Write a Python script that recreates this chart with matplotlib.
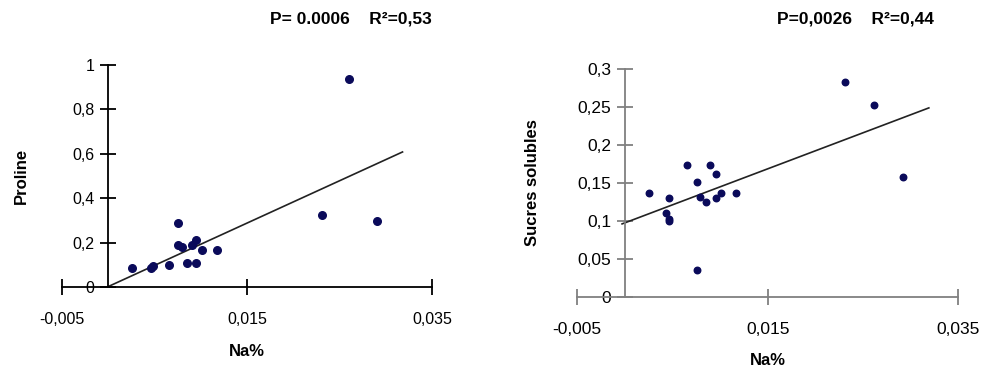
import matplotlib.pyplot as plt

plt.rcParams['font.family'] = ['Liberation Sans', 'DejaVu Sans']

# Proline vs Na%
na_pro = [0.0026, 0.0046, 0.0048, 0.0066, 0.0075, 0.0075, 0.0080, 0.0085,
          0.0090, 0.0095, 0.0095, 0.0101, 0.0117, 0.0231, 0.0260, 0.0290]
proline = [0.084, 0.084, 0.093, 0.099, 0.290, 0.187, 0.178, 0.109,
           0.187, 0.211, 0.109, 0.165, 0.165, 0.322, 0.937, 0.298]
pro_trend_x = [0.0, 0.0318]
pro_trend_y = [0.002, 0.608]

# Sucres solubles vs Na%
na_suc = [0.0025, 0.0046, 0.0043, 0.0046, 0.0046, 0.0065, 0.0076, 0.0076, 0.0079,
          0.0085, 0.0089, 0.0096, 0.0096, 0.0101, 0.0117, 0.0231, 0.0261, 0.0292]
sucres = [0.137, 0.130, 0.110, 0.103, 0.100, 0.174, 0.151, 0.035, 0.132,
          0.125, 0.174, 0.162, 0.130, 0.137, 0.137, 0.283, 0.253, 0.158]
suc_trend_x = [-0.0003, 0.0319]
suc_trend_y = [0.096, 0.249]

xticks = [-0.005, 0.015, 0.035]
pro_yticks = [0, 0.2, 0.4, 0.6, 0.8, 1]
suc_yticks = [0, 0.05, 0.1, 0.15, 0.2, 0.25, 0.3]


def fmt(v):
    s = ('%g' % v).replace('.', ',')
    return s


fig = plt.figure(figsize=(9.95, 3.81), dpi=100)

panels = [
    ([0.0623, 0.2467, 0.372, 0.583], na_pro, proline, pro_trend_x, pro_trend_y,
     pro_yticks, (0, 1), 'Proline', -0.09, 'black', 30, 11.5,
     'P= 0.0006    R\u00b2=0,53', 0.353),
    ([0.5802, 0.2213, 0.383, 0.597], na_suc, sucres, suc_trend_x, suc_trend_y,
     suc_yticks, (0, 0.3), 'Sucres solubles', -0.097, '#808080', 22, 12.5,
     'P=0,0026    R\u00b2=0,44', 0.86),
]

for (rect, xs, ys, tx, ty, yt, ylim, ylab, ylab_x, axcol, ms, fs,
     title, tx_pos) in panels:
    ax = fig.add_axes(rect)
    ax.scatter(xs, ys, s=ms, color='#0a0a5a', zorder=3)
    ax.plot(tx, ty, color='#222222', lw=1.2, zorder=2)
    ax.set_xlim(-0.005, 0.035)
    ax.set_ylim(*ylim)
    ax.spines['top'].set_visible(False)
    ax.spines['right'].set_visible(False)
    ax.spines['left'].set_position(('data', 0))
    for sp in ('left', 'bottom'):
        ax.spines[sp].set_color(axcol)
        ax.spines[sp].set_linewidth(1.3)
    ax.set_xticks(xticks)
    ax.set_xticklabels([fmt(v) for v in xticks])
    ax.set_yticks(yt)
    ax.set_yticklabels([fmt(v) for v in yt])
    ax.tick_params(axis='both', direction='inout', length=12, width=1.3,
                   color=axcol, labelsize=fs)
    ax.tick_params(axis='x', pad=12)
    ax.tick_params(axis='y', pad=4)
    ax.set_xlabel('Na%', fontsize=12, fontweight='bold', labelpad=12)
    ax.set_ylabel(ylab, fontsize=12, fontweight='bold')
    ax.yaxis.set_label_coords(ylab_x, 0.5)
    fig.text(tx_pos, 0.95, title, fontsize=12.5, fontweight='bold',
             ha='center', va='center')

fig.savefig('out.png', dpi=100)
